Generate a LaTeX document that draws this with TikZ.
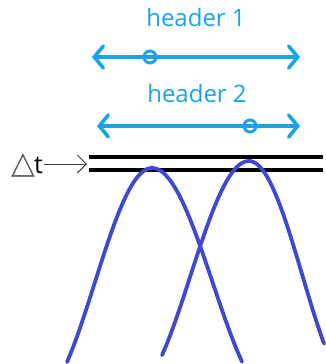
\documentclass[tikz,border=0pt]{standalone}
\usepackage{fontspec}
\setmainfont{Open Sans}
\newfontfamily\dejavu{DejaVu Sans}
\usetikzlibrary{arrows.meta}
\definecolor{hdrblue}{RGB}{24,164,228}
\definecolor{curveblue}{RGB}{64,72,208}
\tikzset{
  hdrtext/.style={text=hdrblue, font=\fontsize{24}{27}\selectfont, inner sep=0pt, anchor=base},
  spanarrow/.style={draw=hdrblue, line width=3.6pt, line cap=round,
    {Straight Barb[length=9pt,width=22pt,line width=3.6pt,line cap=round]}-{Straight Barb[length=9pt,width=22pt,line width=3.6pt,line cap=round]}},
  marker/.style={circle, draw=hdrblue, line width=3pt, minimum size=12pt, inner sep=0pt, fill=none},
  level/.style={draw=black, line width=4pt},
  wave/.style={draw=curveblue, line width=3.8pt, line cap=round},
  pointer/.style={draw=black!75, line width=0.9pt, -{Straight Barb[length=9pt,width=18pt,line width=0.9pt]}}
}
\begin{document}
\begin{tikzpicture}[x=1pt,y=-1pt]
\useasboundingbox (0,0) rectangle (325,364);
% headers
\node[hdrtext] (h1) at (196,27) {header 1};
\node[hdrtext] (h2) at (197,102) {header 2};
% span arrows
\coordinate (a1l) at (92,57);
\coordinate (a1r) at (300,57);
\coordinate (a2l) at (97,126);
\coordinate (a2r) at (300,126);
\draw[spanarrow] (a1l) -- (a1r);
\draw[spanarrow] (a2l) -- (a2r);
\node[marker] (m1) at (150,57) {};
\node[marker] (m2) at (250,126) {};
% level lines
\coordinate (l1a) at (89,157);
\coordinate (l1b) at (323,157);
\coordinate (l2a) at (89,170);
\coordinate (l2b) at (323,170);
\draw[level] (l1a) -- (l1b);
\draw[level] (l2a) -- (l2b);
% delta t label
\node[inner sep=0pt, anchor=base west] (dt) at (11,173) {{\dejavu\fontsize{31}{34}\selectfont\textcolor{black!65}{△}}\kern-1pt\fontsize{25}{27}\selectfont t};
\coordinate (dtend) at (87,164);
\draw[pointer] (dt.east |- dtend) ++(1,0) -- (dtend);
% curves
\draw[wave] plot[domain=-85:0, samples=50] ({152+\x},{168+115*(1-cos(1.57*\x))})
  -- plot[domain=0:90, samples=50] ({152+\x},{168+115*(1-cos(1.48*\x))});
\draw[wave] plot[domain=-87:0, samples=50] ({249+\x},{161+115*(1-cos(1.535*\x))})
  -- plot[domain=0:75, samples=50] ({249+\x},{161+115*(1-cos(1.68*\x))});
\end{tikzpicture}
\end{document}
